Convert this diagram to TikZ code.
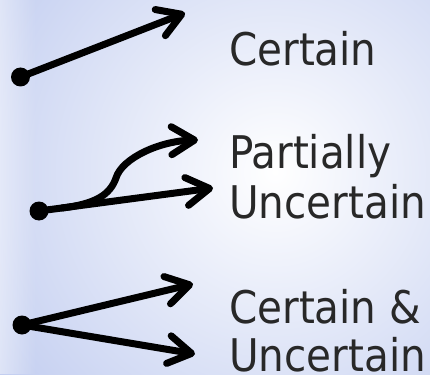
\documentclass[tikz,border=0pt]{standalone}
\usepackage{fontspec}
\newfontfamily\labfont{DejaVu Sans Condensed}
\usetikzlibrary{arrows.meta,fadings}
\definecolor{bgblue}{RGB}{190,202,239}
\definecolor{labgray}{RGB}{40,40,40}
\tikzset{
  dotnode/.style={circle, fill=black, inner sep=0pt, minimum size=19pt},
  shaft/.style={line width=7pt, line cap=round, line join=round, draw=black,
    -{Straight Barb[length=23pt, width=28pt, round]}},
  lab/.style={anchor=base west, inner sep=0pt, text=labgray, font=\labfont\fontsize{45pt}{50pt}\selectfont}
}
\begin{document}
\begin{tikzpicture}[x=1pt, y=-1pt]
  \useasboundingbox (0,0) rectangle (430,374);
  % background
  \fill[bgblue] (0,0) rectangle (430,374);
  \begin{scope}
    \clip (0,0) rectangle (430,374);
    \shade[inner color=white, outer color=bgblue] (275,172) circle (370);
  \end{scope}
  \fill[white, opacity=0.45, path fading=east] (0,0) rectangle (36,374);

  % dots
  \node[dotnode] (d1) at (20.5,77) {};
  \node[dotnode] (d2) at (39,211) {};
  \node[dotnode] (d3) at (22,325) {};

  % arrow ends
  \coordinate (t1) at (185,13);
  \coordinate (t2a) at (213,188);
  \coordinate (b2) at (62,208);
  \coordinate (k2) at (116,178);
  \coordinate (t2b) at (198,140);
  \coordinate (t3a) at (193,284);
  \coordinate (t3b) at (195,354);

  % connectors
  \draw[shaft] (d1.center) -- (t1);
  \draw[shaft] (d2.center) -- (t2a);
  \draw[shaft] (b2) .. controls (95,204) and (110,195) .. (k2)
                    .. controls (122,158) and (160,141) .. (t2b);
  \draw[shaft] (d3.center) -- (t3a);
  \draw[shaft] (d3.center) -- (t3b);

  % labels
  \node[lab] (l1) at (229,66) {Certain};
  \node[lab] (l2) at (229,168) {Partially};
  \node[lab] (l3) at (229,218) {Uncertain};
  \node[lab] (l4) at (229,323) {Certain \&};
  \node[lab] (l5) at (229,371) {Uncertain};
\end{tikzpicture}
\end{document}
